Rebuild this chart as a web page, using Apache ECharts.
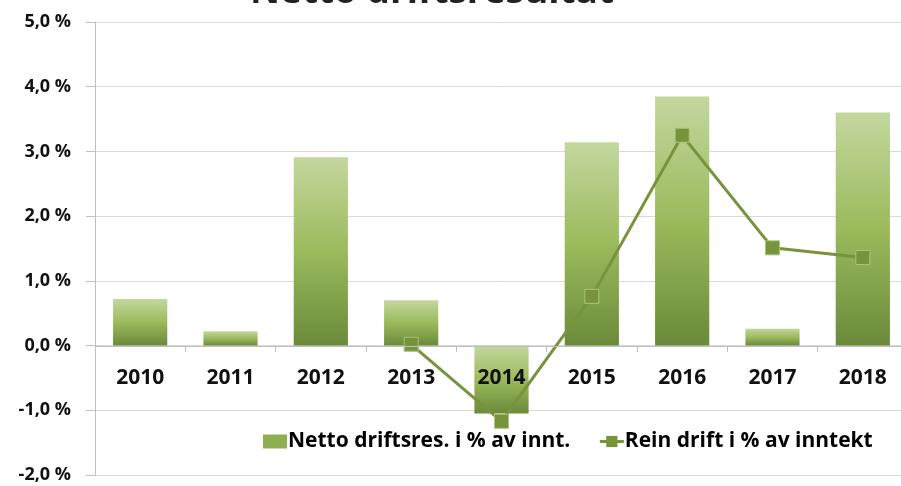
<!DOCTYPE html>
<html>
<head>
<meta charset="utf-8">
<script src="https://cdn.jsdelivr.net/npm/echarts@6/dist/echarts.min.js"></script>
<style>
  html, body { margin: 0; padding: 0; background: #fff; }
  #chart { width: 901px; height: 486px; }
</style>
</head>
<body>
<div id="chart"></div>
<script>
const years = ['2010', '2011', '2012', '2013', '2014', '2015', '2016', '2017', '2018'];
const nettoDrift = [0.72, 0.22, 2.91, 0.70, -1.05, 3.14, 3.85, 0.26, 3.60];
const reinDrift = [null, null, null, 0.02, -1.17, 0.76, 3.25, 1.51, 1.36];
const yTicks = [-2, -1, 0, 1, 2, 3, 4, 5];

const FONT = 'Open Sans';
const chart = echarts.init(document.getElementById('chart'));

const barGradient = new echarts.graphic.LinearGradient(0, 0, 0, 1, [
  { offset: 0, color: '#c4d79e' },
  { offset: 0.5, color: '#9bba5c' },
  { offset: 1, color: '#6a8a3a' }
]);

// grid: top 22, height 453, range -2..5 -> zero sits 2/7 of the height above the bottom
const gridTop = 22, gridH = 453;
const zeroOffset = -Math.round(gridH * 2 / 7);

chart.setOption({
  animation: false,
  title: {
    text: 'Netto driftsresultat',
    left: 245,
    top: -31,
    textStyle: { fontFamily: FONT, fontSize: 37, fontWeight: 'bold', color: '#222' }
  },
  grid: { left: 95, top: gridTop, width: 813, height: gridH, containLabel: false, outerBoundsMode: 'none' },
  legend: {
    left: 258,
    top: 426,
    itemGap: 28,
    itemWidth: 24,
    itemHeight: 14,
    textStyle: { fontFamily: FONT, fontSize: 21, fontWeight: 'bold', color: '#000', padding: [0, 0, 0, -4] },
    data: [
      { name: 'Netto driftsres. i % av innt.', icon: 'rect', itemStyle: { color: '#8fae52' } },
      { name: 'Rein drift i % av inntekt', itemStyle: { borderWidth: 0 }, lineStyle: { width: 3 } }
    ]
  },
  xAxis: {
    type: 'category',
    data: years,
    z: 5,
    position: 'bottom',
    offset: zeroOffset,
    axisLine: { onZero: false, lineStyle: { color: '#bfbfbf', width: 1 } },
    axisTick: { show: true, length: 6, lineStyle: { color: '#bfbfbf' } },
    axisLabel: { margin: 22, fontFamily: FONT, fontSize: 21, fontWeight: 'bold', color: '#111' }
  },
  yAxis: {
    type: 'value',
    min: -2,
    max: 5,
    interval: 1,
    axisLine: { show: true, lineStyle: { color: '#bfbfbf' } },
    axisTick: { show: true, length: 9, lineStyle: { color: '#bfbfbf' } },
    splitLine: { lineStyle: { color: '#d9d9d9' } },
    axisLabel: {
      margin: 24,
      fontFamily: FONT,
      fontSize: 18,
      fontWeight: 'bold',
      color: '#111',
      formatter: v => yTicks.includes(v) ? v.toFixed(1).replace('.', ',') + ' %' : ''
    }
  },
  series: [
    {
      name: 'Netto driftsres. i % av innt.',
      type: 'bar',
      data: nettoDrift,
      barWidth: '60%',
      itemStyle: { color: barGradient }
    },
    {
      name: 'Rein drift i % av inntekt',
      type: 'line',
      data: reinDrift,
      symbol: 'rect',
      symbolSize: 14,
      z: 4,
      lineStyle: { color: '#77933c', width: 3 },
      itemStyle: { color: '#77933c', borderColor: '#a9c47a', borderWidth: 1 }
    }
  ]
});
</script>
</body>
</html>
